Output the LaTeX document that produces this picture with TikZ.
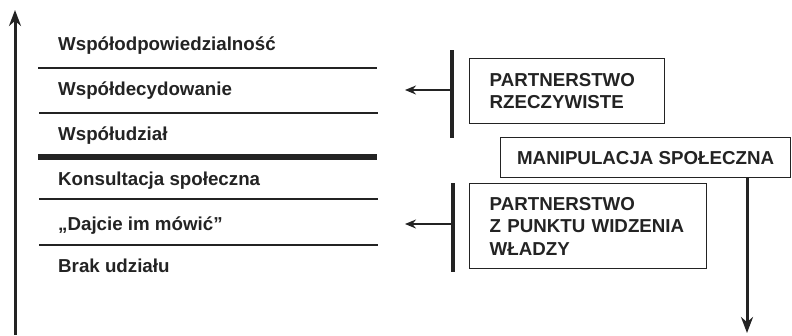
\documentclass[tikz,border=0pt]{standalone}
\usepackage{fontspec}
\setmainfont{Liberation Sans}
\usetikzlibrary{arrows.meta}
\definecolor{ink}{RGB}{35,35,35}
\begin{document}
\begin{tikzpicture}[x=1bp,y=-1bp,
  level/.style={anchor=base west, inner sep=0pt, text=ink,
    font=\fontsize{18.8}{22.5}\selectfont\bfseries},
  rule/.style={draw=ink, line width=1.3bp},
  mainrule/.style={draw=ink, line width=6bp},
  labelbox/.style={draw=ink, line width=1.3bp, anchor=north west, align=left,
    inner xsep=20bp, inner ysep=0pt, text=ink,
    font=\fontsize{18.8}{22.5}\selectfont\bfseries},
  bracket/.style={draw=ink, line width=4bp},
  pointer/.style={draw=ink, line width=1.5bp, -{Stealth[length=11bp,width=9bp]}},
  axis/.style={draw=ink, line width=3bp, -{Stealth[length=16bp,width=12bp]}},
]
\useasboundingbox (0,0) rectangle (792,335);

% vertical scale of participation
\coordinate (axisfoot) at (15,335);
\coordinate (axistip) at (15,10);
\draw[axis] (axisfoot) -- (axistip);

% ladder levels
\node[level] (l6) at (58,50)  {Współodpowiedzialność};
\node[level] (l5) at (58,95)  {Współdecydowanie};
\node[level] (l4) at (58,140) {Współudział};
\node[level] (l3) at (58,185) {Konsultacja społeczna};
\node[level] (l2) at (58,230) {„Dajcie im mówić”};
\node[level] (l1) at (58,272) {Brak udziału};

% separators between levels
\coordinate (r1a) at (38,68);  \coordinate (r1b) at (377,68);
\coordinate (r2a) at (39,113); \coordinate (r2b) at (378,113);
\coordinate (r3a) at (38,157); \coordinate (r3b) at (377,157);
\coordinate (r4a) at (39,199); \coordinate (r4b) at (378,199);
\coordinate (r5a) at (39,245); \coordinate (r5b) at (378,245);
\draw[rule] (r1a) -- (r1b);
\draw[rule] (r2a) -- (r2b);
\draw[mainrule] (r3a) -- (r3b);
\draw[rule] (r4a) -- (r4b);
\draw[rule] (r5a) -- (r5b);

% upper group: real partnership
\node[labelbox, text width=155bp, minimum height=65bp] (real) at (469,58)
  {PARTNERSTWO\\RZECZYWISTE};
\coordinate (b1t) at (452,50);
\coordinate (b1b) at (452,138);
\draw[bracket] (b1t) -- (b1b);
\coordinate (p1) at (405,90);
\draw[pointer] (b1t |- p1) -- (p1);

% social manipulation
\node[draw=ink, line width=1.3bp, anchor=north west, minimum width=290bp,
  minimum height=40bp, inner sep=0pt, text=ink,
  font=\fontsize{18.8}{22.5}\selectfont\bfseries] (manip) at (500,137)
  {MANIPULACJA SPOŁECZNA};
\coordinate (downtip) at (747,333);
\draw[axis] (downtip |- manip.south) -- (downtip);

% lower group: partnership as seen by the authorities
\node[labelbox, text width=197bp, minimum height=85bp] (auth) at (469,183)
  {PARTNERSTWO\\Z PUNKTU WIDZENIA\\WŁADZY};
\coordinate (b2t) at (453,183);
\coordinate (b2b) at (453,272);
\draw[bracket] (b2t) -- (b2b);
\coordinate (p2) at (405,224);
\draw[pointer] (b2t |- p2) -- (p2);
\end{tikzpicture}
\end{document}
